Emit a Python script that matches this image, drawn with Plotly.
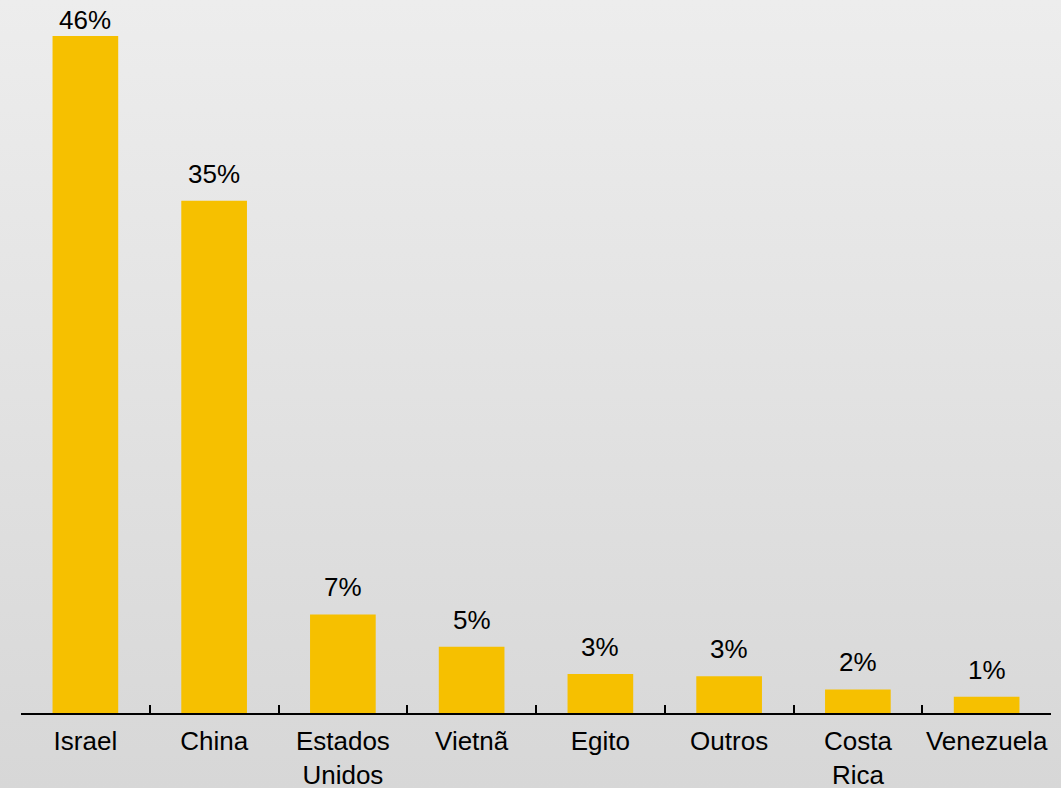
import base64
import plotly.graph_objects as go

categories = ["Israel", "China", "Estados<br>Unidos", "Vietnã", "Egito", "Outros", "Costa<br>Rica", "Venezuela"]
values = [46.0, 34.8, 6.7, 4.5, 2.65, 2.5, 1.6, 1.1]
labels = ["46%", "35%", "7%", "5%", "3%", "3%", "2%", "1%"]

W, H = 1061, 788
ml, mr, mt, mb = 21, 10, 10, 75
pw, ph = W - ml - mr, H - mt - mb
PX_PER_UNIT = 14.72
FONT = "Liberation Sans, Arial, sans-serif"

svg = (
    f'<svg xmlns="http://www.w3.org/2000/svg" width="{W}" height="{H}" preserveAspectRatio="none">'
    '<defs><linearGradient id="g" x1="0" y1="0" x2="0" y2="1">'
    '<stop offset="0" stop-color="#EDEDED"/><stop offset="1" stop-color="#D7D7D7"/>'
    '</linearGradient></defs>'
    f'<rect width="{W}" height="{H}" fill="url(#g)"/></svg>'
)
bg_uri = "data:image/svg+xml;base64," + base64.b64encode(svg.encode()).decode()

fig = go.Figure(
    go.Bar(
        x=categories,
        y=values,
        marker=dict(color="#F6C000", line=dict(width=0)),
        hoverinfo="skip",
    )
)

# value labels above bars (kept inside the picture at the top)
annotations = []
for cat, v, lab in zip(categories, values, labels):
    bar_top = mt + ph - v * PX_PER_UNIT      # pixel row of bar top
    baseline = max(bar_top - 17, 30)         # desired text baseline row
    shift = (bar_top - 7) - baseline
    annotations.append(
        dict(
            x=cat, y=v, xref="x", yref="y", text=lab, showarrow=False,
            yanchor="bottom", xanchor="center", yshift=shift,
            font=dict(family=FONT, size=26, color="#000000"),
        )
    )

fig.update_layout(
    width=W,
    height=H,
    margin=dict(l=ml, r=mr, t=mt, b=mb, autoexpand=False),
    paper_bgcolor="#E2E2E2",
    plot_bgcolor="rgba(0,0,0,0)",
    bargap=0.49,
    showlegend=False,
    font=dict(family=FONT, size=26, color="#000000"),
    annotations=annotations,
    images=[
        dict(
            source=bg_uri,
            xref="paper",
            yref="paper",
            x=-ml / pw,
            y=1 + mt / ph,
            sizex=W / pw,
            sizey=H / ph,
            sizing="stretch",
            xanchor="left",
            yanchor="top",
            layer="below",
        )
    ],
)

fig.update_xaxes(
    type="category",
    showline=True,
    linecolor="#000000",
    linewidth=2,
    ticks="inside",
    tickson="boundaries",
    ticklen=8,
    tickwidth=1.5,
    tickcolor="#000000",
    showgrid=False,
    tickangle=0,
    automargin=False,
    ticklabelstandoff=4,
    tickfont=dict(family=FONT, size=26, color="#000000"),
)
fig.update_yaxes(
    range=[0, ph / PX_PER_UNIT],
    visible=False,
    showgrid=False,
    zeroline=False,
    automargin=False,
)

fig.write_html(
    "out.html",
    config={"displayModeBar": False},
    post_script="document.body.style.margin='0';document.body.style.overflow='hidden';",
)
